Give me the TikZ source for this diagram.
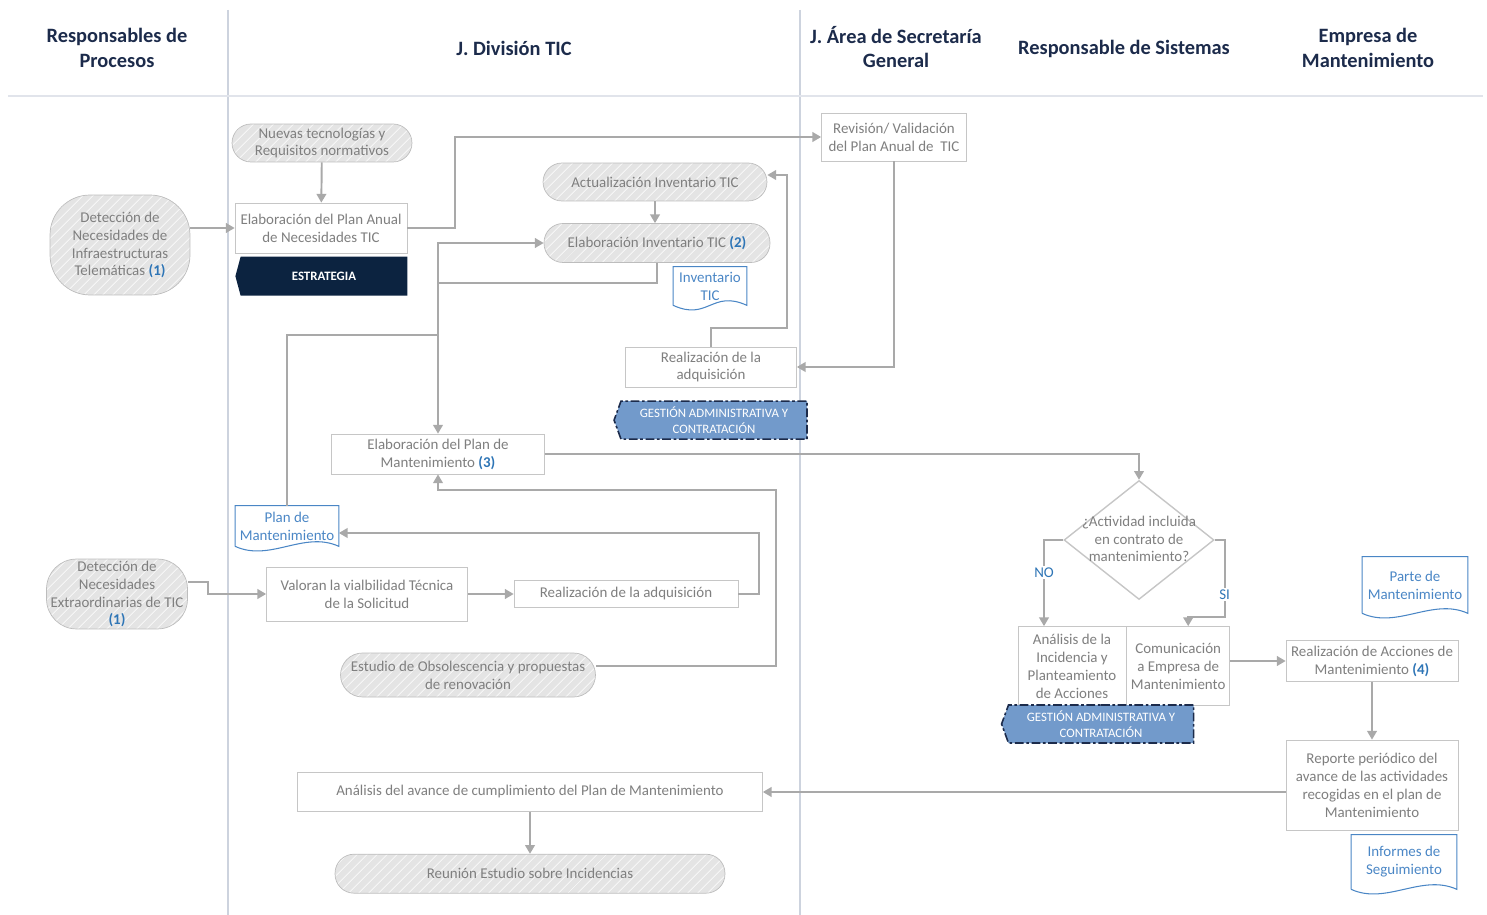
\documentclass[tikz,border=0pt]{standalone}
\usepackage{fontspec}
\setmainfont{Carlito}
\usepackage{tikz}
\usetikzlibrary{arrows.meta,positioning,shapes.geometric,shapes.symbols,patterns.meta,calc}
\definecolor{hdnavy}{HTML}{1C2B4B}
\definecolor{lanegray}{HTML}{CDD3DE}
\definecolor{txtgray}{HTML}{7F7F7F}
\definecolor{boxgray}{HTML}{C6C6C6}
\definecolor{lnkgray}{HTML}{A9A9A9}
\definecolor{termfill}{HTML}{E4E4E4}
\definecolor{termline}{HTML}{BDBDBD}
\definecolor{refblue}{HTML}{2E75B6}
\definecolor{docblue}{HTML}{4A86C5}
\definecolor{gestfill}{HTML}{729ACB}
\definecolor{estnavy}{HTML}{0C2340}

\newcommand{\bodyfont}{\fontsize{8.5}{10.2}\selectfont}
\newcommand{\pasoref}[1]{\textcolor{refblue}{\textbf{(#1)}}}
\newcommand{\docborde}[1]{\draw[docline] (#1.south west) -- (#1.north west) -- (#1.north east) -- (#1.south east) .. controls +(-35,-16) and +(35,16) .. (#1.south west);}

\begin{document}
\begin{tikzpicture}[x=0.02cm,y=-0.02cm,
      node distance=3mm,
      head/.style={font=\fontsize{11.6}{14.2}\selectfont\bfseries,text=hdnavy,align=center},
      proc/.style={draw=boxgray,fill=white,text=txtgray,align=center,font=\bodyfont,inner sep=1pt},
      term/.style={rounded corners=0.38cm,draw=termline,preaction={fill=termfill},
                   pattern={Lines[angle=45,distance=4pt,line width=0.4pt]},pattern color=white,
                   text=txtgray,align=center,font=\bodyfont,inner sep=1pt},
      docu/.style={text=docblue,align=center,font=\bodyfont,inner sep=0pt},
      docline/.style={draw=docblue,line width=0.6pt},
      gest/.style={signal,signal to=west,signal pointer angle=140,fill=gestfill,draw=hdnavy,
                   line width=0.9pt,dash pattern=on 5pt off 1.5pt on 1.5pt off 1.5pt,text=white,
                   align=center,font=\fontsize{7.3}{9}\selectfont,inner sep=0pt,
                   minimum width=3.86cm,minimum height=0.76cm},
      decis/.style={diamond,draw=boxgray,line width=0.8pt,inner sep=0pt,minimum width=3cm,
                    minimum height=2.38cm,text=txtgray,font=\bodyfont},
      arr/.style={-{Triangle[length=5pt,width=5.5pt]},line width=1.1pt,draw=lnkgray},
      lbl/.style={text=refblue,font=\bodyfont,fill=white,inner sep=1pt}]
    \useasboundingbox (0,0) rectangle (1487,915);
    % lanes
    \draw[lanegray,line width=0.8pt] (228,10) -- (228,915);
    \draw[lanegray,line width=0.8pt] (800,10) -- (800,915);
    \draw[lanegray!60,line width=1.5pt] (8,96) -- (1483,96);
    \node[head] (hProc) at (117,48) {Responsables de\\Procesos};
    \node[head] (hDiv)  at (514,48) {J. División TIC};
    \node[head] (hSec)  at (896,47) {J. Área de Secretaría\\General};
    \node[head] (hSis)  at (1124,49) {Responsable de Sistemas};
    \node[head] (hEmp)  at (1368,48) {Empresa de\\Mantenimiento};

    % plan anual
    \node[term,rounded corners=0.8cm,minimum width=2.8cm,minimum height=2cm] (det1) at (120,245)
      {Detección de\\Necesidades de\\Infraestructuras\\Telemáticas \pasoref{1}};
    \node[term,minimum width=3.6cm,minimum height=0.76cm] (nuevas) at (322,143)
      {Nuevas tecnologías y\\Requisitos normativos};
    \node[proc,minimum width=3.44cm,minimum height=1cm] (elabPlan) at (321,228)
      {Elaboración del Plan Anual\\de Necesidades TIC};
    \node[signal,signal to=west,signal pointer angle=150,fill=estnavy,text=white,
          font=\fontsize{7.3}{8}\selectfont\bfseries,minimum width=3.44cm,minimum height=0.78cm,
          below=0.06cm of elabPlan,xshift=0.06cm] (estrat) {ESTRATEGIA};
    \node[proc,minimum width=2.9cm,minimum height=0.96cm] (revision) at (894,137)
      {Revisión/ Validación\\del Plan Anual de\ \ TIC};

    % inventario
    \node[term,minimum width=4.48cm,minimum height=0.76cm] (actInv) at (655,182)
      {Actualización Inventario TIC};
    \node[term,minimum width=4.52cm,minimum height=0.78cm] (elabInv) at (657,243)
      {Elaboración Inventario TIC \pasoref{2}};
    \node[docu,minimum width=1.46cm,minimum height=0.76cm] (invDoc) at (710,286) {Inventario\\TIC};
    \docborde{invDoc}
    \node[proc,minimum width=3.42cm,minimum height=0.8cm] (realAdq1) at (711,367)
      {Realización de la\\adquisición};
    \node[gest,below=0.26cm of realAdq1,xshift=0.06cm] (gest1) {GESTIÓN ADMINISTRATIVA Y\\CONTRATACIÓN};

    % mantenimiento
    \node[proc,minimum width=4.26cm,minimum height=0.8cm] (elabMant) at (438,454)
      {Elaboración del Plan de\\Mantenimiento \pasoref{3}};
    \node[docu,minimum width=2.06cm,minimum height=0.8cm] (planDoc) at (287,526) {Plan de\\Mantenimiento};
    \docborde{planDoc}
    \node[term,rounded corners=0.6cm,minimum width=2.82cm,minimum height=1.38cm] (det2) at (117,594)
      {Detección de\\Necesidades\\Extraordinarias de TIC\\\pasoref{1}};
    \node[proc,minimum width=4.02cm,minimum height=1.08cm] (valoran) at (367,594)
      {Valoran la vialbilidad Técnica\\de la Solicitud};
    \node[proc,minimum width=4.48cm,minimum height=0.54cm] (realAdq2) at (626,594)
      {Realización de la adquisición};
    \node[term,rounded corners=0.44cm,minimum width=5.1cm,minimum height=0.88cm] (estudio) at (468,675)
      {Estudio de Obsolescencia y propuestas\\de renovación};

    % sistemas y empresa
    \node[decis] (decis) at (1139,540)
      {\smash{\makebox[0pt]{\raisebox{-0.08cm}{\begin{tabular}{@{}c@{}}¿Actividad incluida\\en contrato de\\mantenimiento?\end{tabular}}}}};
    \node[proc,minimum width=2.16cm,minimum height=1.58cm] (analisis) at (1072,666)
      {Análisis de la\\Incidencia y\\Planteamiento\\de Acciones};
    \node[proc,minimum width=2.06cm,minimum height=1.58cm,right=0pt of analisis] (comunic)
      {Comunicación\\a Empresa de\\Mantenimiento};
    \node[gest,minimum width=3.84cm] (gest2) at (1101,724) {GESTIÓN ADMINISTRATIVA Y\\CONTRATACIÓN};
    \node[docu,minimum width=2.1cm,minimum height=1.12cm] (parteDoc) at (1415,585) {Parte de\\Mantenimiento};
    \docborde{parteDoc}
    \node[proc,minimum width=3.44cm,minimum height=0.82cm] (realAcc) at (1372,661)
      {Realización de Acciones de\\Mantenimiento \pasoref{4}};
    \node[proc,minimum width=3.44cm,minimum height=1.8cm] (reporte) at (1372,785)
      {Reporte periódico del\\avance de las actividades\\recogidas en el plan de\\Mantenimiento};
    \node[docu,minimum width=2.1cm,minimum height=1.08cm] (infDoc) at (1404,862) {Informes de\\Seguimiento};
    \docborde{infDoc}

    % seguimiento
    \node[proc,minimum width=9.3cm,minimum height=0.78cm] (analAv) at (530,792)
      {Análisis del avance de cumplimiento del Plan de Mantenimiento};
    \node[term,minimum width=7.8cm,minimum height=0.78cm,below=0.84cm of analAv] (reunion)
      {Reunión Estudio sobre Incidencias};

    % connectors
    \draw[arr] (det1.east |- elabPlan.west) -- (elabPlan.west);
    \draw[arr] (nuevas) -- (elabPlan);
    \draw[arr] (elabPlan.east) -- ++(48,0) |- (revision.west);
    \draw[arr] (revision.south) |- (realAdq1.east);
    \draw[arr] (realAdq1.north) -- ++(0,-19) -- ++(76,0) |- ([yshift=0.14cm]actInv.east);
    \draw[arr] (actInv.south) -- (actInv.south |- elabInv.north);
    \draw[arr] (elabInv.south) -- ++(0,20) -| (elabMant.north);
    \draw[arr] (planDoc.north) -- ++(0,-171) -- ++(151,0) |- (elabInv.west);
    \draw[arr] (elabMant.east) -| (decis.north);
    \draw[arr] ([yshift=0.24cm]det2.east) -- ++(20,0) |- (valoran.west);
    \draw[arr] (valoran) -- (realAdq2);
    \draw[arr] (realAdq2.east) -- ++(21,0) |- ([yshift=-0.14cm]planDoc.east);
    \draw[arr] ([yshift=0.18cm]estudio.east) -- ++(180,0) -- ++(0,-176) -| (elabMant.south);
    \draw[arr] (decis.west) -| node[lbl,pos=0.69] (noLbl) {NO} ([xshift=-0.56cm]analisis.north);
    \draw[arr] (decis.east) -- ++(10,0) -- node[lbl,pos=0.71] (siLbl) {SI} ++(0,77)
      -| ([xshift=0.2cm]comunic.north);
    \draw[arr] (comunic.east |- realAcc.west) -- (realAcc.west);
    \draw[arr] (realAcc) -- (reporte);
    \draw[arr] (reporte.west |- analAv.east) -- (analAv.east);
    \draw[arr] (analAv) -- (reunion);
  \end{tikzpicture}
\end{document}
